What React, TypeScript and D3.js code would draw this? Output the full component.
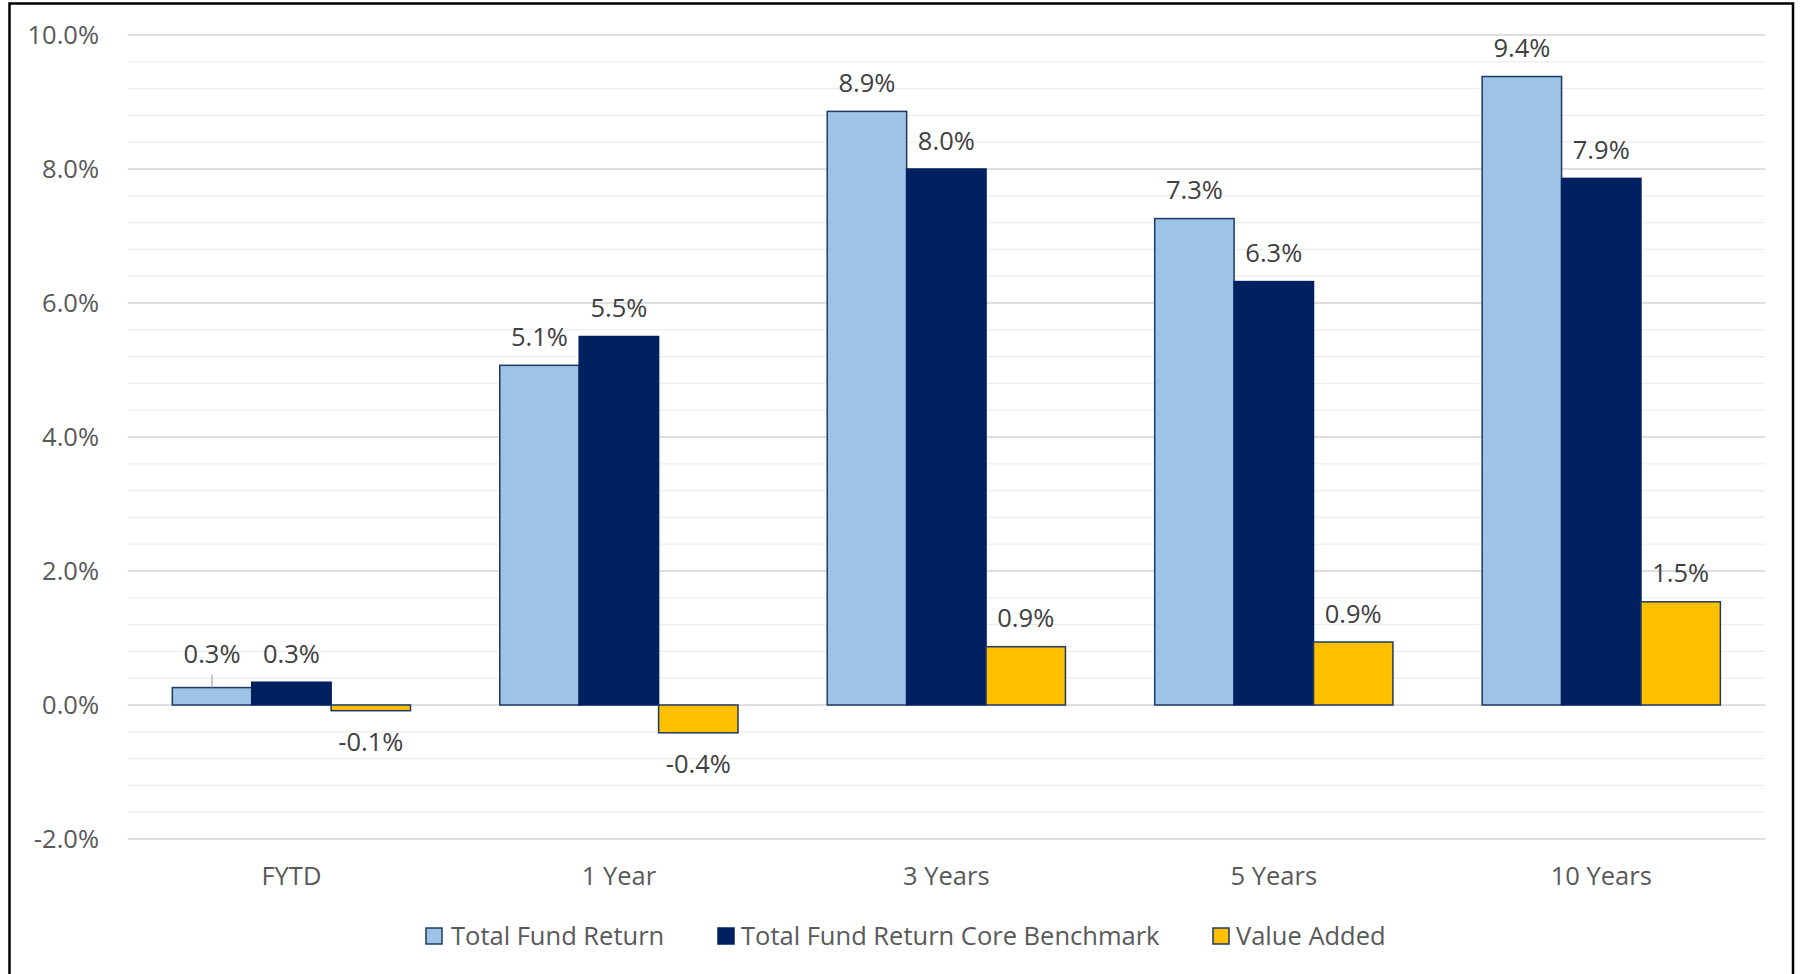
import React, { useEffect } from "react";
import * as d3 from "d3";

const categories = ["FYTD", "1 Year", "3 Years", "5 Years", "10 Years"];
const seriesNames = ["Total Fund Return", "Total Fund Return Core Benchmark", "Value Added"];
const totalFundReturn = [0.26, 5.07, 8.86, 7.26, 9.38];
const coreBenchmark = [0.34, 5.5, 8.0, 6.32, 7.86];
const valueAdded = [-0.085, -0.415, 0.87, 0.94, 1.54];
const seriesFill = ["#9dc3e6", "#002060", "#ffc000"];
const majorTicks = [-2, 0, 2, 4, 6, 8, 10];

const W = 1801;
const H = 974;
const FONT = "'Open Sans', 'DejaVu Sans', sans-serif";
const FS = 25.5;

export default function App() {
  useEffect(() => {
    document.body.style.margin = "0";
  }, []);

  const y = d3.scaleLinear().domain([-2, 10]).range([839, 35]);
  const x0 = d3.scaleBand<string>().domain(categories).range([127.7, 1765]).paddingInner(0).paddingOuter(0);
  const gap = 1.124;
  const barW = x0.bandwidth() / (3 + gap);
  const groupOffset = (x0.bandwidth() - 3 * barW) / 2;
  const x1 = d3.scaleBand<number>().domain([0, 1, 2]).range([0, 3 * barW]).padding(0);
  const locale = d3.formatLocale({ decimal: ".", thousands: ",", grouping: [3], currency: ["$", ""], minus: "-" });
  const fmt = locale.format(".1f");
  const minorTicks = d3.range(-2, 10.001, 0.4).map((v) => +v.toFixed(2));
  const series = [totalFundReturn, coreBenchmark, valueAdded];

  const legendKeyX = [426, 718, 1213];
  const legendTextX = [451, 741, 1236];

  return (
    <svg width={W} height={H} style={{ display: "block", background: "#fff" }} fontFamily={FONT}>
      <rect x={0} y={0} width={W} height={H} fill="#fff" />
      <rect x={9.5} y={3.5} width={1783.5} height={1000} fill="none" stroke="#000" strokeWidth={2.5} />
      {minorTicks.map((t) => (
        <line key={"mn" + t} x1={127.7} x2={1765} y1={y(t)} y2={y(t)} stroke="#ededed" strokeWidth={1.3} />
      ))}
      {majorTicks.map((t) => (
        <line key={"mj" + t} x1={127.7} x2={1765} y1={y(t)} y2={y(t)} stroke="#d9d9d9" strokeWidth={1.5} />
      ))}
      {majorTicks.map((t) => (
        <text key={"yl" + t} x={99} y={y(t) + 9} textAnchor="end" fontSize={FS} fill="#595959">
          {fmt(t) + "%"}
        </text>
      ))}
      {categories.map((c, ci) => {
        const gx = (x0(c) as number) + groupOffset;
        const posTops = series.map((s) => s[ci]).filter((v) => v > 0).map((v) => y(v));
        const groupTop = Math.min(...posTops);
        return (
          <g key={c}>
            {series.map((s, si) => {
              const v = s[ci];
              const bx = gx + (x1(si) as number);
              const top = Math.min(y(v), y(0));
              const h = Math.abs(y(v) - y(0));
              return (
                <rect
                  key={si}
                  x={bx}
                  y={top}
                  width={barW}
                  height={h}
                  fill={seriesFill[si]}
                  stroke={si === 1 ? "#002060" : "#1f3864"}
                  strokeWidth={1.5}
                />
              );
            })}
            {series.map((s, si) => {
              const v = s[ci];
              const cx = gx + (x1(si) as number) + barW / 2;
              if (v >= 0) {
                const barTop = y(v);
                const labelTop = ci === 0 ? Math.min(barTop, groupTop) : barTop;
                const base = labelTop - 19.5;
                const leader = barTop - labelTop > 4;
                return (
                  <g key={"l" + si}>
                    {leader && (
                      <line x1={cx} x2={cx} y1={base + 12} y2={barTop} stroke="#a6a6a6" strokeWidth={1.2} />
                    )}
                    <text x={cx} y={base} textAnchor="middle" fontSize={FS} fill="#404040">
                      {fmt(v) + "%"}
                    </text>
                  </g>
                );
              }
              return (
                <text key={"l" + si} x={cx} y={y(v) + 40} textAnchor="middle" fontSize={FS} fill="#404040">
                  {fmt(v) + "%"}
                </text>
              );
            })}
            <text
              x={(x0(c) as number) + x0.bandwidth() / 2}
              y={885}
              textAnchor="middle"
              fontSize={FS}
              fill="#595959"
            >
              {c}
            </text>
          </g>
        );
      })}
      {seriesNames.map((n, i) => (
        <g key={n}>
          <rect
            x={legendKeyX[i]}
            y={928}
            width={16}
            height={16}
            fill={seriesFill[i]}
            stroke={i === 1 ? "#002060" : "#1f3864"}
            strokeWidth={1.5}
          />
          <text x={legendTextX[i]} y={945} fontSize={FS} fill="#595959">
            {n}
          </text>
        </g>
      ))}
    </svg>
  );
}
